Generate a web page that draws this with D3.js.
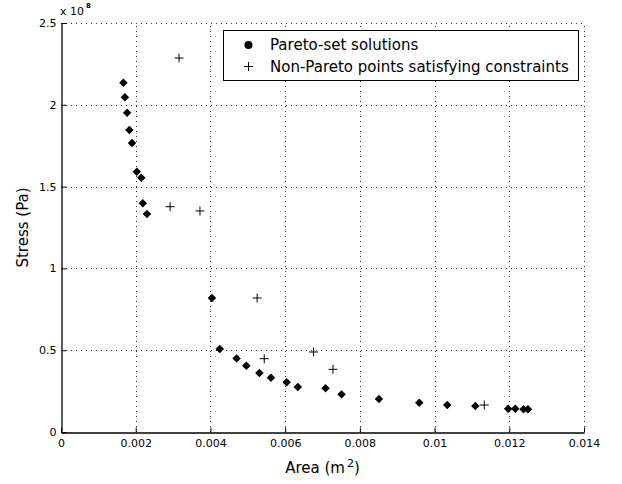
<!DOCTYPE html>
<html>
<head>
<meta charset="utf-8">
<script src="https://cdn.jsdelivr.net/npm/d3@7"></script>
<style>
  body { margin: 0; background: #fff; }
  svg { display: block; font-family: "DejaVu Sans", "Liberation Sans", Arial, sans-serif; }
</style>
</head>
<body>
<div id="chart"></div>
<script>
// area (m^2) and stress (Pa, units of 1e8)
const paretoArea = [0.00167, 0.00171, 0.00177, 0.00183, 0.00190, 0.00203, 0.00215, 0.00219, 0.00230,
  0.00404, 0.00425, 0.00470, 0.00496, 0.00531, 0.00562, 0.00604, 0.00634, 0.00708, 0.00751, 0.00851,
  0.00959, 0.01034, 0.01109, 0.01197, 0.01216, 0.01238, 0.01250];
const paretoStress = [2.135, 2.046, 1.952, 1.846, 1.766, 1.591, 1.554, 1.398, 1.333,
  0.819, 0.507, 0.450, 0.405, 0.361, 0.332, 0.304, 0.275, 0.267, 0.230, 0.202,
  0.179, 0.165, 0.159, 0.142, 0.142, 0.139, 0.139];
const otherArea = [0.00316, 0.00292, 0.00372, 0.00525, 0.00544, 0.00676, 0.00728, 0.01133];
const otherStress = [2.286, 1.377, 1.351, 0.819, 0.448, 0.489, 0.383, 0.165];

const xTicks = [0, 0.002, 0.004, 0.006, 0.008, 0.01, 0.012, 0.014];
const yTicks = [0, 0.5, 1, 1.5, 2, 2.5];
const legendLabels = ['Pareto-set solutions', 'Non-Pareto points satisfying constraints'];

const width = 622, height = 484;
const plotLeft = 61, plotRight = 584, plotTop = 23, plotBottom = 432;

const svg = d3.select('#chart').append('svg')
  .attr('width', width)
  .attr('height', height);

const x = d3.scaleLinear().domain([0, 0.014]).range([plotLeft, plotRight]);
const y = d3.scaleLinear().domain([0, 2.5]).range([plotBottom, plotTop]);

// dotted grid
const grid = svg.append('g')
  .attr('stroke', '#333')
  .attr('stroke-width', 1)
  .attr('stroke-dasharray', '1,4');
grid.selectAll('line.gx')
  .data(xTicks.slice(1))
  .join('line')
  .attr('class', 'gx')
  .attr('x1', d => Math.round(x(d)) + 0.5)
  .attr('x2', d => Math.round(x(d)) + 0.5)
  .attr('y1', plotBottom)
  .attr('y2', plotTop);
grid.selectAll('line.gy')
  .data(yTicks.slice(1))
  .join('line')
  .attr('class', 'gy')
  .attr('y1', d => Math.round(y(d)) + 0.5)
  .attr('y2', d => Math.round(y(d)) + 0.5)
  .attr('x1', plotLeft)
  .attr('x2', plotRight);

// axes
const xAxis = svg.append('g')
  .attr('transform', `translate(0,${plotBottom + 0.5})`)
  .call(d3.axisBottom(x).tickValues(xTicks).tickSizeInner(-5).tickSizeOuter(0)
    .tickFormat(d => d === 0 ? '0' : String(+d.toFixed(3))));
const yAxis = svg.append('g')
  .attr('transform', `translate(${plotLeft + 0.5},0)`)
  .call(d3.axisLeft(y).tickValues(yTicks).tickSizeInner(-5).tickSizeOuter(0)
    .tickFormat(d => String(d)));

[xAxis, yAxis].forEach(a => {
  a.select('.domain').attr('stroke', '#000').attr('stroke-width', 1.3);
  a.selectAll('.tick line').attr('stroke', '#000');
  a.selectAll('.tick text').attr('font-size', 11).attr('fill', '#000')
    .attr('font-family', '"DejaVu Sans", sans-serif');
});
xAxis.selectAll('.tick text').attr('dy', '1.02em');
yAxis.selectAll('.tick text').attr('x', -5);

// exponent label
const expo = svg.append('text')
  .attr('x', 60)
  .attr('y', 15)
  .attr('font-size', 11);
expo.append('tspan').text('x 10');
expo.append('tspan').attr('dx', 2).attr('dy', -7).attr('font-size', 7).attr('font-weight', 'bold').text('8');

// axis titles
const xlab = svg.append('text')
  .attr('x', (plotLeft + plotRight) / 2)
  .attr('y', 473)
  .attr('text-anchor', 'middle')
  .attr('font-size', 15);
xlab.append('tspan').text('Area (m');
xlab.append('tspan').attr('dx', 2).attr('dy', -6).attr('font-size', 11).text('2');
xlab.append('tspan').attr('dy', 6).text(')');

svg.append('text')
  .attr('transform', `translate(28,${(plotTop + plotBottom) / 2}) rotate(-90)`)
  .attr('text-anchor', 'middle')
  .attr('font-size', 15)
  .text('Stress (Pa)');

// markers
const diamond = {
  draw(ctx, size) {
    const r = Math.sqrt(size / 2);
    ctx.moveTo(0, -r);
    ctx.lineTo(r, 0);
    ctx.lineTo(0, r);
    ctx.lineTo(-r, 0);
    ctx.closePath();
  }
};
const diamondPath = d3.symbol().type(diamond).size(36)();

svg.append('g')
  .selectAll('path')
  .data(paretoArea.map((a, i) => [a, paretoStress[i]]))
  .join('path')
  .attr('d', diamondPath)
  .attr('transform', d => `translate(${x(d[0])},${y(d[1])})`)
  .attr('fill', '#000');

const plusPath = 'M-4.5,0H4.5M0,-4.5V4.5';
svg.append('g')
  .selectAll('path')
  .data(otherArea.map((a, i) => [a, otherStress[i]]))
  .join('path')
  .attr('d', plusPath)
  .attr('transform', d => `translate(${x(d[0])},${y(d[1])})`)
  .attr('stroke', '#000')
  .attr('stroke-width', 1)
  .attr('fill', 'none');

// legend
const legend = svg.append('g');
legend.append('rect')
  .attr('x', 223.5)
  .attr('y', 30.5)
  .attr('width', 355)
  .attr('height', 50)
  .attr('fill', '#fff')
  .attr('stroke', '#000')
  .attr('stroke-width', 1);
legend.append('circle')
  .attr('cx', 248.5)
  .attr('cy', 45)
  .attr('r', 4)
  .attr('fill', '#000');
legend.append('path')
  .attr('d', plusPath)
  .attr('transform', 'translate(248.5,66.5)')
  .attr('stroke', '#000');
legend.selectAll('text')
  .data(legendLabels)
  .join('text')
  .attr('x', 270)
  .attr('y', (d, i) => 45 + i * 21.5)
  .attr('dy', '0.35em')
  .attr('font-size', 15)
  .text(d => d);
</script>
</body>
</html>
